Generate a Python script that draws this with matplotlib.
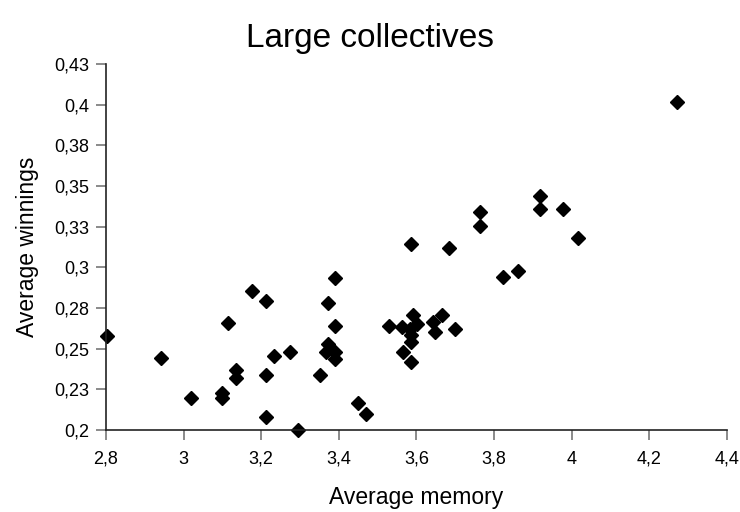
import matplotlib
matplotlib.use('Agg')
import matplotlib.pyplot as plt
import numpy as np
from decimal import Decimal, ROUND_HALF_UP

plt.rcParams['font.family'] = ['Liberation Sans', 'DejaVu Sans']

# average memory / average winnings of each collective
memory = [2.803, 2.942, 3.019, 3.098, 3.098, 3.136, 3.136, 3.115, 3.175, 3.2135,
          3.2135, 3.2135, 3.234, 3.274, 3.295, 3.352, 3.372, 3.391, 3.391, 3.372,
          3.368, 3.391, 3.391, 3.449, 3.469, 3.529, 3.5625, 3.583, 3.566, 3.590,
          3.587, 3.587, 3.587, 3.587, 3.602, 3.643, 3.665, 3.648, 3.700, 3.684,
          3.764, 3.764, 3.823, 3.861, 3.919, 3.919, 3.978, 4.017, 4.272]
winnings = [0.258, 0.2441, 0.2199, 0.2226, 0.2199, 0.2369, 0.2318, 0.2660, 0.2856, 0.2795,
            0.2338, 0.2078, 0.2457, 0.2478, 0.2000, 0.2340, 0.2779, 0.2937, 0.2637, 0.2526,
            0.2481, 0.2481, 0.2437, 0.2164, 0.2098, 0.2639, 0.2635, 0.2619, 0.2481, 0.2707,
            0.2584, 0.2543, 0.2420, 0.3143, 0.2652, 0.2666, 0.2707, 0.2604, 0.2619, 0.3117,
            0.3338, 0.3255, 0.2938, 0.2979, 0.3440, 0.3357, 0.3358, 0.3178, 0.4014]

xticks = np.arange(2.8, 4.41, 0.2)
yticks = np.arange(0.2, 0.426, 0.025)


def excel_label(v, digits):
    # Excel-style rounding (half up), comma as decimal separator
    q = Decimal(str(round(v, 6))).quantize(Decimal(1).scaleb(-digits), ROUND_HALF_UP)
    s = format(q.normalize(), 'f')
    return s.replace('.', ',')


fig = plt.figure(figsize=(7.4, 5.12), dpi=100)
ax = fig.add_axes([0.1432, 0.1602, 0.8392, 0.7148])

ax.plot(memory, winnings, 'D', color='black', markersize=7.2, linestyle='none', clip_on=False)

ax.set_xlim(2.8, 4.4)
ax.set_ylim(0.2, 0.425)
ax.set_xticks(xticks)
ax.set_xticklabels([excel_label(v, 1) for v in xticks])
ax.set_yticks(yticks)
ax.set_yticklabels([excel_label(v, 2) for v in yticks])

for s in ['top', 'right']:
    ax.spines[s].set_visible(False)
for s in ['left', 'bottom']:
    ax.spines[s].set_color('#222222')
    ax.spines[s].set_linewidth(1.2)
ax.tick_params(axis='both', direction='out', length=7, width=1.2, color='#777777',
               labelsize=13)
ax.tick_params(axis='x', pad=8)
ax.tick_params(axis='y', pad=5)

ax.set_xlabel('Average memory', fontsize=16.5, labelpad=13)
ax.set_ylabel('Average winnings', fontsize=16.5, labelpad=11)
fig.suptitle('Large collectives', fontsize=24, y=0.955)

fig.savefig('out.png', dpi=100)
